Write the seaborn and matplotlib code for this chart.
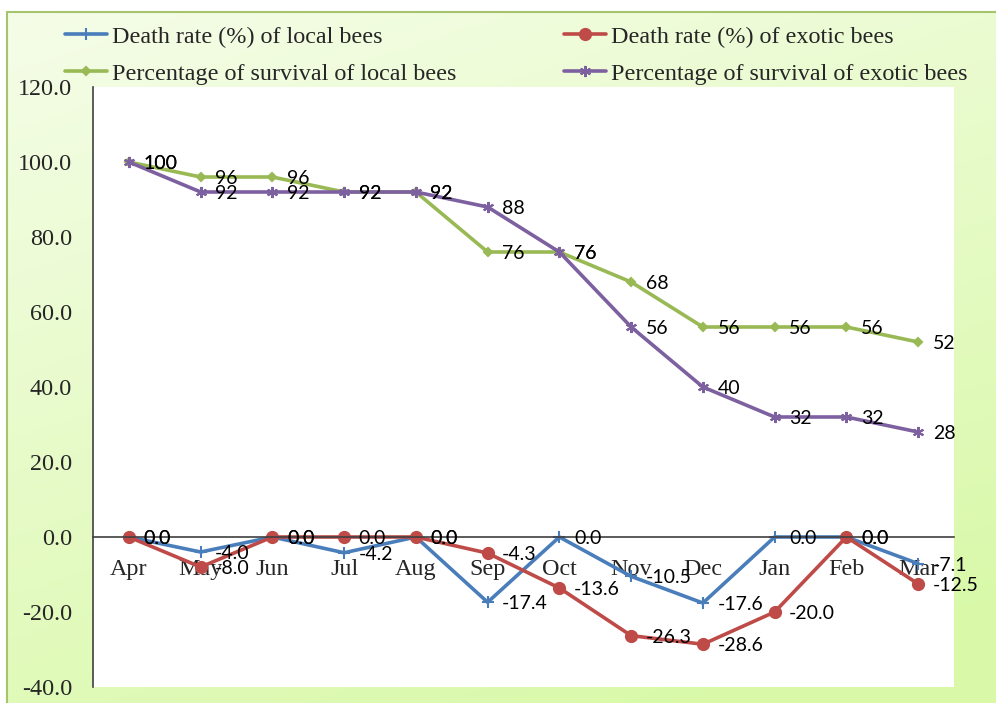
import numpy as np
import pandas as pd
import matplotlib
matplotlib.use("Agg")
import matplotlib.pyplot as plt
from matplotlib.patches import Rectangle
import seaborn as sns

months = ["Apr", "May", "Jun", "Jul", "Aug", "Sep", "Oct", "Nov", "Dec", "Jan", "Feb", "Mar"]
death_local = [0.0, -4.0, 0.0, -4.2, 0.0, -17.4, 0.0, -10.5, -17.6, 0.0, 0.0, -7.1]
death_exotic = [0.0, -8.0, 0.0, 0.0, 0.0, -4.3, -13.6, -26.3, -28.6, -20.0, 0.0, -12.5]
survival_local = [100, 96, 96, 92, 92, 76, 76, 68, 56, 56, 56, 52]
survival_exotic = [100, 92, 92, 92, 92, 88, 76, 56, 40, 32, 32, 28]

# legend order follows the 2-column layout (filled column-wise)
series = [
    ("Death rate (%) of local bees", death_local, "#4a7ebb", "+", 9, "{:.1f}"),
    ("Percentage of survival of local bees", survival_local, "#98b954", "D", 4, "{:.0f}"),
    ("Death rate (%) of exotic bees", death_exotic, "#be4b48", "o", 8, "{:.1f}"),
    ("Percentage of survival of exotic bees", survival_exotic, "#7d60a0", (6, 2, 0), 8, "{:.0f}"),
]

df = pd.DataFrame({"month": months})
x = np.arange(len(months))

sns.set_style("white")
plt.rcParams["font.family"] = ["Liberation Serif", "DejaVu Serif"]

fig = plt.figure(figsize=(9.96, 7.03), dpi=100)

# gradient background box
bg = fig.add_axes([0, 0, 1, 1], zorder=-10)
gx, gy = np.meshgrid(np.linspace(0, 1, 200), np.linspace(0, 1, 200))
t = np.clip(0.35 * gx + 0.75 * gy, 0, 1)
c0 = np.array([0xf5, 0xfd, 0xe8]) / 255
c1 = np.array([0xd9, 0xf9, 0xa9]) / 255
img = c0[None, None, :] * (1 - t[..., None]) + c1[None, None, :] * t[..., None]
bg.imshow(img, extent=[7 / 996, 1.0, 0, 1 - 12 / 703], aspect="auto", origin="upper")
bg.add_patch(Rectangle((7 / 996, -0.01), 1.0, 1 - 12 / 703 + 0.01, fill=False,
                       edgecolor="#a6c46e", linewidth=1.5))
bg.set_xlim(0, 1)
bg.set_ylim(0, 1)
bg.axis("off")

ax = fig.add_axes([93 / 996, 1 - 687 / 703, (954 - 93) / 996, (687 - 87) / 703])
ax.set_facecolor("white")

handles = []
for label, vals, color, marker, ms, fmt in series:
    df[label] = vals
    sns.lineplot(data=df, x=x, y=label, ax=ax, color=color, linewidth=2.6,
                 marker=marker, markersize=ms, markeredgecolor=color,
                 markeredgewidth=1.5, label=label, legend=False)
    handles.append(ax.lines[-1])
    # data labels to the right of each point
    for xi, v in zip(x, vals):
        ax.annotate(fmt.format(v), (xi, v), xytext=(10.5, -1), textcoords="offset points",
                    ha="left", va="center", fontsize=14, family=["Lato", "DejaVu Sans"],
                    color="black", zorder=5)

ax.set_xlim(-0.5, 11.5)
ax.set_ylim(-40, 120)
ax.set_yticks(np.arange(-40, 121, 20))
ax.set_yticklabels([f"{v:.1f}" for v in np.arange(-40, 121, 20)])
ax.set_xticks(x)
ax.set_xticklabels(months)
ax.set_xticks(np.arange(-0.5, 12, 1), minor=True)
ax.tick_params(axis="x", which="major", length=0, pad=16, labelsize=17.4)
ax.tick_params(axis="x", which="minor", length=5, width=1.2, color="#404040", direction="out")
ax.tick_params(axis="y", length=5, width=1.2, color="#404040", direction="out",
               labelsize=17.4, pad=10)
for s in ["top", "right"]:
    ax.spines[s].set_visible(False)
ax.spines["bottom"].set_position(("data", 0))
ax.spines["bottom"].set_color("#404040")
ax.spines["bottom"].set_linewidth(1.2)
ax.spines["left"].set_color("#404040")
ax.spines["left"].set_linewidth(1.2)
ax.set_xlabel("")
ax.set_ylabel("")

fig.legend(handles=handles, labels=[s[0] for s in series], ncol=2, loc="upper left",
           bbox_to_anchor=(65 / 996, 1 - 26 / 703), frameon=False, fontsize=17.4,
           handlelength=1.75, handletextpad=0.2, columnspacing=4.45, labelspacing=0.62,
           borderaxespad=0, borderpad=0)

fig.savefig("out.png", dpi=100)
